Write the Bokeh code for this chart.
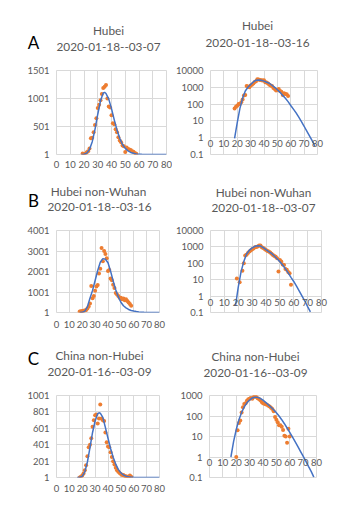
from bokeh.plotting import figure
from bokeh.layouts import column, row
from bokeh.models import FixedTicker, CustomJSTickFormatter, Range1d
from bokeh.core.properties import value
from bokeh.embed import file_html
from bokeh.resources import INLINE

# ---------------- data ----------------
# Panel A, linear (Hubei 2020-01-18--03-07)
a_lin_x = list(range(19, 59))
a_lin_y = [20, 5, 15, 40, 60, 110, 290, 300, 400, 530, 650, 830, 890, 970, 1080,
           1190, 1210, 1240, 1000, 860, 840, 700, 560, 540, 450, 400, 310, 250, 220,
           160, 150, 45, 125, 100, 90, 80, 60, 50, 30, 15]
a_lin_fit_x = [18, 20, 22, 24, 26, 28, 30, 32, 34, 35, 36, 38, 40, 42, 44, 46, 48, 50,
               52, 54, 56, 58, 60, 62, 64, 66, 68, 70, 72, 74, 76, 78, 80]
a_lin_fit_y = [1, 5, 25, 90, 230, 450, 720, 960, 1100, 1110, 1090, 990, 820, 620, 440,
               290, 180, 110, 65, 38, 22, 12, 7, 4, 2, 1.5, 1, 1, 1, 1, 1, 1, 1]

# Panel A, log (Hubei 2020-01-18--03-16)
a_log_x = list(range(18, 59))
a_log_y = [55, 70, 80, 100, 100, 130, 190, 330, 350, 1200, 1100, 1000, 1300, 1400,
           1700, 2100, 2300, 3000, 2900, 2700, 2600, 2500, 2600, 2000, 1900, 1700,
           1400, 1300, 1200, 900, 800, 650, 700, 800, 600, 550, 350, 450, 400, 380, 300]
a_log_fit_x = [18, 20, 22, 24, 26, 28, 30, 32, 34, 36, 38, 40, 42, 44, 46, 48, 50, 52,
               54, 56, 58, 60, 62, 64, 66, 68, 70, 72, 74, 76, 78]
a_log_fit_y = [0.9, 8, 56, 224, 600, 1000, 1480, 2090, 2630, 2750, 2630, 2340, 2000,
               1740, 1320, 1000, 720, 500, 330, 224, 141, 83, 50, 30, 16.6, 9.1, 4.8,
               2.5, 1.3, 0.66, 0.32]

# Panel B, linear (Hubei non-Wuhan 2020-01-18--03-16)
b_lin_x = list(range(18, 59))
b_lin_y = [50, 60, 70, 90, 100, 120, 200, 290, 440, 1290, 700, 800, 1060, 1270, 1340,
           1900, 2130, 3150, 2500, 3000, 2850, 2650, 2020, 2080, 1660, 1580, 1350, 1200,
           950, 880, 800, 720, 720, 650, 680, 600, 650, 560, 490, 420, 330]
b_lin_fit_x = [18, 20, 22, 24, 26, 28, 30, 32, 34, 36, 38, 40, 42, 44, 46, 48, 50, 52,
               54, 56, 58, 60, 62, 64, 66, 68, 70, 72, 74, 76, 78, 80]
b_lin_fit_y = [1, 10, 70, 280, 700, 1080, 1560, 2050, 2450, 2630, 2600, 2430, 2020, 1540,
               1110, 760, 500, 330, 230, 150, 100, 70, 45, 30, 18, 10, 6, 3, 2, 1, 1, 1]

# Panel B, log (Hubei non-Wuhan 2020-01-18--03-07)
b_log_x = [19, 21, 23, 24, 25, 26, 27, 28, 29, 30, 31, 32, 33, 34, 35, 36, 37, 38, 39,
           40, 41, 42, 43, 44, 45, 46, 47, 48, 49, 50, 51, 52, 53, 54, 55, 56, 57, 58]
b_log_y = [12, 7, 35, 100, 300, 330, 420, 520, 600, 720, 800, 950, 1000, 1050, 1200,
           1200, 950, 850, 750, 650, 560, 520, 450, 380, 320, 280, 250, 200, 32, 160,
           130, 85, 80, 45, 40, 30, 25, 5]
b_log_fit_x = [18, 20, 22, 24, 26, 28, 30, 32, 34, 36, 38, 40, 42, 44, 46, 48, 50, 52,
               54, 56, 58, 60, 62, 64, 66, 68, 70, 72]
b_log_fit_y = [0.25, 3.5, 30, 130, 370, 630, 870, 1080, 1180, 1150, 900, 680, 520, 400,
               280, 190, 125, 78, 46, 26, 14, 7.8, 4, 2, 1, 0.5, 0.23, 0.11]

# Panel C, linear (China non-Hubei 2020-01-16--03-09)
c_lin_x = list(range(18, 59))
c_lin_y = [2, 10, 25, 50, 90, 150, 260, 370, 400, 480, 620, 700, 760, 770, 660, 720, 890,
           720, 700, 690, 550, 430, 380, 370, 310, 250, 200, 160, 120, 90, 70, 55, 45, 30,
           30, 20, 15, 10, 8, 25, 10]
c_lin_fit_x = [16, 18, 20, 22, 24, 26, 28, 30, 32, 33, 34, 36, 38, 40, 42, 44, 46, 48, 50,
               52, 54, 56, 58, 60, 62, 64, 66, 68, 70, 72, 74, 76, 78, 80]
c_lin_fit_y = [1, 4, 15, 70, 190, 366, 550, 690, 780, 790, 785, 735, 610, 480, 355, 247,
               165, 100, 58, 32, 17, 9, 5, 3, 2, 1.5, 1, 1, 1, 1, 1, 1, 1, 1]

# Panel C, log (China non-Hubei 2020-01-16--03-09)
c_log_x = list(range(20, 61))
c_log_y = [1, 20, 45, 60, 150, 270, 380, 420, 560, 650, 700, 750, 700, 850, 1000, 850,
           730, 680, 580, 480, 420, 400, 370, 350, 320, 290, 250, 220, 170, 90, 65, 50,
           35, 35, 30, 21, 11, 10, 5, 24, 10]
c_log_fit_x = [16, 18, 20, 22, 24, 26, 28, 30, 32, 34, 36, 38, 40, 42, 44, 46, 48, 50,
               52, 54, 56, 58, 60, 62, 64, 66, 68, 70, 72, 74, 76, 78]
c_log_fit_y = [1, 5.6, 22, 66, 150, 280, 440, 600, 760, 830, 810, 720, 590, 460, 355,
               270, 200, 145, 100, 66, 42, 26, 16, 9.5, 5.6, 3.3, 1.9, 1.1, 0.63, 0.35,
               0.2, 0.105]

x_ticks = [0, 10, 20, 30, 40, 50, 60, 70, 80]
a_lin_ticks = [1, 501, 1001, 1501]
b_lin_ticks = [1, 1001, 2001, 3001, 4001]
c_lin_ticks = [1, 201, 401, 601, 801, 1001]
a_log_ticks = [0.1, 1, 10, 100, 1000, 10000]
b_log_ticks = [0.1, 1, 10, 100, 1000, 10000]
c_log_ticks = [0.1, 1, 10, 100, 1000]

a_titles = ["Hubei", "2020-01-18--03-07", "Hubei", "2020-01-18--03-16"]
b_titles = ["Hubei non-Wuhan", "2020-01-18--03-16", "Hubei non-Wuhan", "2020-01-18--03-07"]
c_titles = ["China non-Hubei", "2020-01-16--03-09", "China non-Hubei", "2020-01-16--03-09"]

# ---------------- style / layout ----------------
FONT = "Lato"
GRAY = "#595959"
GRID = "#d9d9d9"
ORANGE = "#ED7D31"
BLUE = "#4472C4"
W = 345


def header(height):
    h = figure(width=W, height=height, x_range=Range1d(0, W), y_range=Range1d(height, 0),
               output_backend="svg", toolbar_location=None, min_border=0,
               x_axis_location=None, y_axis_location=None)
    h.grid.visible = False
    h.outline_line_color = None
    h.background_fill_color = "white"
    h.border_fill_color = "white"
    return h


def add_titles(h, texts, positions):
    h.text(x=[p[0] for p in positions], y=[p[1] for p in positions], text=texts,
           text_font=value(FONT), text_font_size="11.8px", text_color=GRAY,
           text_align="center", text_baseline="middle")


def add_letter(h, letter, pos):
    h.text(x=[pos[0]], y=[pos[1]], text=[letter], text_font=value(FONT),
           text_font_size="17px", text_color="black",
           text_align="center", text_baseline="middle")


def make_panel(width, height, borders, y_lo, y_hi, y_ticks, log, xs, ys, fx, fy,
               xstand):
    bl, bt, br, bb = borders
    p = figure(width=width, height=height, x_range=Range1d(0, 80),
               y_range=Range1d(y_lo, y_hi),
               y_axis_type="log" if log else "linear", output_backend="svg",
               toolbar_location=None,
               min_border_left=bl, min_border_right=br,
               min_border_top=bt, min_border_bottom=bb)
    p.outline_line_color = GRID
    p.background_fill_color = "white"
    p.border_fill_color = "white"
    p.xaxis.ticker = FixedTicker(ticks=x_ticks)
    p.yaxis.ticker = FixedTicker(ticks=y_ticks)
    for ax in (p.xaxis[0], p.yaxis[0]):
        ax.axis_line_color = None
        ax.major_tick_line_color = None
        ax.minor_tick_line_color = None
        ax.major_tick_out = 0
        ax.major_tick_in = 0
        ax.major_label_text_font = FONT
        ax.major_label_text_font_size = "9.5px"
        ax.major_label_text_color = GRAY
    p.yaxis.major_label_standoff = 7
    p.xaxis.major_label_standoff = xstand
    if log:
        p.yaxis.formatter = CustomJSTickFormatter(code="return String(tick);")
    p.xgrid.grid_line_color = GRID
    p.ygrid.grid_line_color = GRID

    p.scatter(xs, ys, size=4, fill_color=ORANGE, line_color=None)
    p.line(fx, fy, line_color=BLUE, line_width=1.5)
    return p


# headers (title rows)
hA = header(58)
add_titles(hA, a_titles, [(108, 30), (108, 46), (257, 25), (257, 42)])
add_letter(hA, "A", (33, 42))

hB = header(41)
add_titles(hB, b_titles, [(98, 12), (99, 27), (263, 13), (263, 28)])
add_letter(hB, "B", (33, 21))

hC = header(44)
add_titles(hC, c_titles, [(99, 14), (99, 30), (255, 15), (255, 31)])
add_letter(hC, "C", (33, 17))

# panels: borders = (left, top, right, bottom)
pa1 = make_panel(172, 121, (56, 12, 6, 25), 1, 1501, a_lin_ticks, False,
                 a_lin_x, a_lin_y, a_lin_fit_x, a_lin_fit_y, 6)
pa2 = make_panel(173, 121, (37, 10, 28, 6), 0.1, 10000, a_log_ticks, True,
                 a_log_x, a_log_y, a_log_fit_x, a_log_fit_y, -15)
pb1 = make_panel(172, 121, (56, 7, 13, 29), 1, 4001, b_lin_ticks, False,
                 b_lin_x, b_lin_y, b_lin_fit_x, b_lin_fit_y, 8)
pb2 = make_panel(173, 121, (37, 10, 24, 14), 0.1, 10000, b_log_ticks, True,
                 b_log_x, b_log_y, b_log_fit_x, b_log_fit_y, -14)
pc1 = make_panel(172, 134, (56, 8, 13, 42), 1, 1001, c_lin_ticks, False,
                 c_lin_x, c_lin_y, c_lin_fit_x, c_lin_fit_y, 7)
pc2 = make_panel(173, 134, (37, 10, 29, 27), 0.1, 1000, c_log_ticks, True,
                 c_log_x, c_log_y, c_log_fit_x, c_log_fit_y, -19)

layout = column(hA, row(pa1, pa2), hB, row(pb1, pb2), hC, row(pc1, pc2))

open("out.html", "w").write(file_html(layout, INLINE))
